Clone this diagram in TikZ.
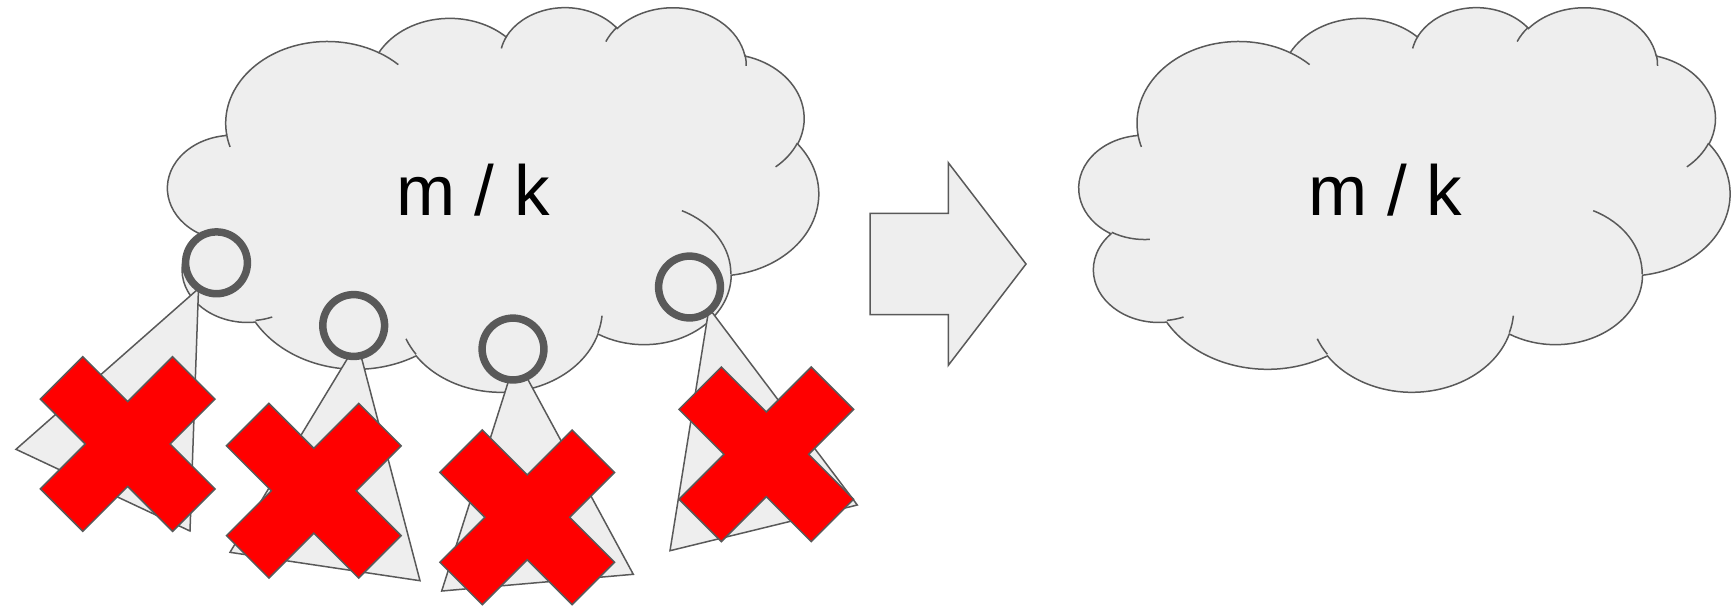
\documentclass[tikz,border=0pt]{standalone}
\usepackage{fontspec}
\setmainfont{Liberation Sans}
\usepackage{tikz}
\usepackage{xcolor}
\definecolor{cloudgray}{HTML}{EEEEEE}
\definecolor{edgegray}{HTML}{595959}
\definecolor{crossred}{HTML}{FF0000}
\tikzset{
  cloudbody/.style={draw=edgegray, fill=cloudgray, line width=0.75pt},
  cloudcurl/.style={draw=edgegray, line width=0.75pt},
  pawn/.style={draw=edgegray, fill=cloudgray, line width=0.75pt},
  headring/.style={
    draw=edgegray, fill=cloudgray, line width=3.75pt, circle,
    inner sep=0pt, minimum size=30.9pt
  },
  redcross/.style={draw=edgegray, fill=crossred, line width=0.75pt},
  fatarrow/.style={draw=edgegray, fill=cloudgray, line width=0.75pt},
  ratio/.style={font=\fontsize{35.5}{40}\selectfont, text=black, inner sep=0pt, anchor=base}
}
% cloud outline in a 432 x 432 frame, #1 = top left corner
\newcommand{\drawcloud}[1]{%
  \begin{scope}[shift={#1}, x=0.753pt, y=-0.445pt]
    \path[cloudbody] (39.00,143.70)
      arc[start angle=-187.75, delta angle=128.12, x radius=67.53, y radius=91.90]
      arc[start angle=-152.03, delta angle=106.59, x radius=53.33, y radius=72.67]
      arc[start angle=-153.49, delta angle=116.17, x radius=43.65, y radius=59.45]
      arc[start angle=-139.71, delta angle=129.50, x radius=48.57, y radius=65.95]
      arc[start angle=-74.77, delta angle=97.98, x radius=53.33, y radius=72.73]
      arc[start angle=-37.51, delta angle=119.37, x radius=67.75, y radius=92.20]
      arc[start angle=0.46, delta angle=121.51, x radius=57.85, y radius=78.67]
      arc[start angle=16.84, delta angle=129.37, x radius=67.52, y radius=92.15]
      arc[start angle=58.98, delta angle=91.22, x radius=77.20, y radius=105.43]
      arc[start angle=83.31, delta angle=139.77, x radius=43.60, y radius=59.18]
      arc[start angle=120.36, delta angle=143.75, x radius=43.45, y radius=59.45]
      -- cycle;
    \foreach \px/\py/\rx/\ry/\sa/\da in {
        46.93/261.77/43.45/59.45/85.55/34.81,
        69.28/348.99/43.60/59.18/68.24/15.07,
        164.78/390.90/67.52/92.15/146.21/12.26,
        288.27/347.51/67.52/92.15/4.74/12.10,
        341.29/229.54/57.85/78.67/-64.03/64.49,
        417.98/153.54/53.33/72.73/23.21/26.43,
        383.24/54.26/48.57/65.95/-10.21/11.03,
        290.78/39.52/48.57/65.95/-156.28/16.57,
        221.41/47.20/43.65/59.45/-167.73/14.24,
        140.00/51.92/67.53/91.90/-59.63/13.91,
        41.27/157.89/67.53/91.90/163.20/9.05}
      \draw[cloudcurl] (\px,\py)
        arc[start angle=\sa, delta angle=\da, x radius=\rx, y radius=\ry];
  \end{scope}}

\begin{document}
\begin{tikzpicture}[x=0.5pt, y=-0.5pt]
  \useasboundingbox (0,0) rectangle (1732,606);

  % before
  \drawcloud{(167.9,6.4)}
  \node[ratio] (ratioA) at (473,215) {m / k};

  \filldraw[pawn] (198.5,288.6) -- (16,449.3) -- (190,531) -- cycle;
  \filldraw[pawn] (357.4,342.2) -- (230,552.3) -- (420,580.7) -- cycle;
  \filldraw[pawn] (516,357.5) -- (441.7,591) -- (633.3,574.3) -- cycle;
  \filldraw[pawn] (709,308.2) -- (670,550.7) -- (857.3,505) -- cycle;

  \node[headring] (head1) at (216.5,262.8) {};
  \node[headring] (head2) at (353.7,325.5) {};
  \node[headring] (head3) at (513,349) {};
  \node[headring] (head4) at (689.5,287) {};

  \foreach \cx/\cy in {127.7/444, 313.8/490.7, 527.2/517.3, 766.3/454.3}
    \filldraw[redcross, shift={(\cx,\cy)}, rotate=45]
      (-93.5,-30) -- (-30,-30) -- (-30,-93.5) -- (30,-93.5) -- (30,-30) -- (93.5,-30)
      -- (93.5,30) -- (30,30) -- (30,93.5) -- (-30,93.5) -- (-30,30) -- (-93.5,30) -- cycle;

  \filldraw[fatarrow] (870,213.3) -- (948.3,213.3) -- (948.3,162.7) -- (1026,264)
    -- (948.3,365.3) -- (948.3,314.7) -- (870,314.7) -- cycle;

  % after
  \drawcloud{(1079.2,6.4)}
  \node[ratio] (ratioB) at (1385.5,215) {m / k};
\end{tikzpicture}
\end{document}
